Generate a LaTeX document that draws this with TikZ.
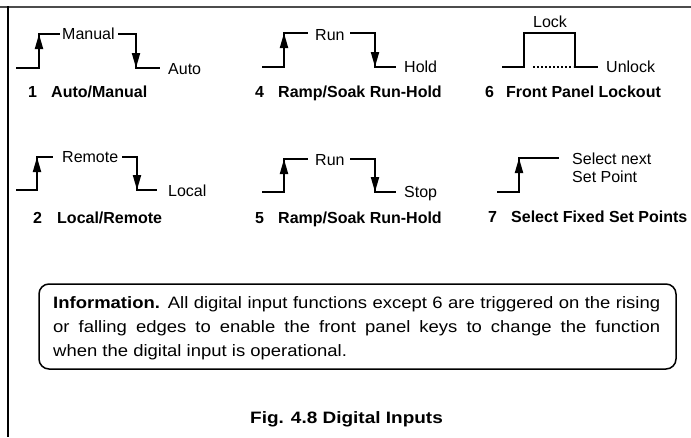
\documentclass[tikz,border=0pt]{standalone}
\usepackage{fontspec}
\setmainfont{Liberation Sans}
\newfontfamily\infofont[FakeStretch=1.12]{Liberation Sans}
\newfontfamily\capfont[FakeStretch=1.15]{Liberation Sans}
\usetikzlibrary{arrows.meta,calc}
\tikzset{
  sig/.style={line width=2pt,line join=miter},
  sigarrow/.style={line width=2pt,-{Triangle[length=15pt,width=8pt]}},
  lbl/.style={anchor=base west,inner sep=0pt,font=\fontsize{16}{19}\selectfont},
  ttl/.style={anchor=base west,inner sep=0pt,font=\bfseries\fontsize{16}{19}\selectfont},
  infotxt/.style={anchor=base west,inner sep=0pt,font=\infofont\fontsize{16.5}{20}\selectfont},
  frameline/.style={line width=2pt}
}
\begin{document}
\begin{tikzpicture}[x=1pt,y=-1pt]
\useasboundingbox (0,0) rectangle (691,437);
% frame
\coordinate (ftl) at (0,7); \coordinate (ftr) at (691,7);
\coordinate (fl1) at (8,6); \coordinate (fl2) at (8,437);
\draw[frameline,black!70] (ftl) -- (ftr);
\draw[frameline] (fl1) -- (fl2);

% ---- 1 Auto/Manual
\coordinate (d1a) at (16,68); \coordinate (d1b) at (39,68);
\coordinate (d1c) at (39,34); \coordinate (d1d) at (60,34);
\coordinate (d1e) at (118,34); \coordinate (d1f) at (136,34);
\coordinate (d1g) at (136,68); \coordinate (d1h) at (160,68);
\draw[sig] (d1a) -- (d1b) -- (d1c) -- (d1d);
\draw[sig] (d1e) -- (d1f) -- (d1g) -- (d1h);
\draw[sigarrow] ($(d1c)+(0,17)$) -- (d1c);
\draw[sigarrow] ($(d1g)+(0,-17)$) -- (d1g);
\node[lbl] (d1hi) at (62,39) {Manual};
\node[lbl] (d1lo) at (168,74) {Auto};
\node[ttl] (n1) at (28,97) {1};
\node[ttl] (t1) at (51,97) {Auto/Manual};

% ---- 2 Local/Remote
\coordinate (d2a) at (16,190); \coordinate (d2b) at (37,190);
\coordinate (d2c) at (37,157); \coordinate (d2d) at (53,157);
\coordinate (d2e) at (122,157); \coordinate (d2f) at (137,157);
\coordinate (d2g) at (137,190); \coordinate (d2h) at (157,190);
\draw[sig] (d2a) -- (d2b) -- (d2c) -- (d2d);
\draw[sig] (d2e) -- (d2f) -- (d2g) -- (d2h);
\draw[sigarrow] ($(d2c)+(0,17)$) -- (d2c);
\draw[sigarrow] ($(d2g)+(0,-17)$) -- (d2g);
\node[lbl] (d2hi) at (62,162) {Remote};
\node[lbl] (d2lo) at (168,196) {Local};
\node[ttl] (n2) at (33,223) {2};
\node[ttl] (t2) at (57,223) {Local/Remote};

% ---- 4 Ramp/Soak Run-Hold
\coordinate (d4a) at (262,67); \coordinate (d4b) at (284,67);
\coordinate (d4c) at (284,33); \coordinate (d4d) at (308,33);
\coordinate (d4e) at (350,33); \coordinate (d4f) at (375,33);
\coordinate (d4g) at (375,67); \coordinate (d4h) at (396,67);
\draw[sig] (d4a) -- (d4b) -- (d4c) -- (d4d);
\draw[sig] (d4e) -- (d4f) -- (d4g) -- (d4h);
\draw[sigarrow] ($(d4c)+(0,17)$) -- (d4c);
\draw[sigarrow] ($(d4g)+(0,-17)$) -- (d4g);
\node[lbl] (d4hi) at (315,40) {Run};
\node[lbl] (d4lo) at (404,72) {Hold};
\node[ttl] (n4) at (255,97) {4};
\node[ttl] (t4) at (278,97) {Ramp/Soak Run-Hold};

% ---- 5 Ramp/Soak Run-Hold
\coordinate (d5a) at (262,192); \coordinate (d5b) at (284,192);
\coordinate (d5c) at (284,159); \coordinate (d5d) at (308,159);
\coordinate (d5e) at (350,159); \coordinate (d5f) at (375,159);
\coordinate (d5g) at (375,192); \coordinate (d5h) at (396,192);
\draw[sig] (d5a) -- (d5b) -- (d5c) -- (d5d);
\draw[sig] (d5e) -- (d5f) -- (d5g) -- (d5h);
\draw[sigarrow] ($(d5c)+(0,17)$) -- (d5c);
\draw[sigarrow] ($(d5g)+(0,-17)$) -- (d5g);
\node[lbl] (d5hi) at (315,165) {Run};
\node[lbl] (d5lo) at (404,197.5) {Stop};
\node[ttl] (n5) at (255,223) {5};
\node[ttl] (t5) at (278,223) {Ramp/Soak Run-Hold};

% ---- 6 Front Panel Lockout
\coordinate (d6a) at (502,67); \coordinate (d6b) at (524,67);
\coordinate (d6c) at (524,33); \coordinate (d6d) at (575,33);
\coordinate (d6e) at (575,67); \coordinate (d6f) at (598,67);
\coordinate (d6p) at (533,67); \coordinate (d6q) at (573,67);
\draw[sig] (d6a) -- (d6b) -- (d6c) -- (d6d) -- (d6e) -- (d6f);
\draw[line width=1.5pt,dash pattern=on 2pt off 2pt] (d6p) -- (d6q);
\node[lbl] (d6hi) at (533,27) {Lock};
\node[lbl] (d6lo) at (606,72) {Unlock};
\node[ttl] (n6) at (485,97) {6};
\node[ttl] (t6) at (506,97) {Front Panel Lockout};

% ---- 7 Select Fixed Set Points
\coordinate (d7a) at (497,192); \coordinate (d7b) at (519,192);
\coordinate (d7c) at (519,158); \coordinate (d7d) at (559,158);
\draw[sig] (d7a) -- (d7b) -- (d7c) -- (d7d);
\draw[sigarrow] ($(d7c)+(0,17)$) -- (d7c);
\node[lbl] (d7hi) at (572,164) {Select next};
\node[lbl] (d7hj) at (572,182) {Set Point};
\node[ttl] (n7) at (488,222) {7};
\node[ttl] (t7) at (511,222) {Select Fixed Set Points};

% ---- information box
\node[draw,rounded corners=10pt,line width=1.5pt,minimum width=637pt,minimum height=85pt,inner sep=0pt] (infobox) at (357.5,326.5) {};
\node[infotxt] (i1) at (53,308) {\makebox[607pt][s]{\textbf{Information.} All digital input functions except 6 are triggered on the rising}};
\node[infotxt] (i2) at (53,332.5) {\makebox[607pt][s]{or falling edges to enable the front panel keys to change the function}};
\node[infotxt] (i3) at (53,356) {when the digital input is operational.};

% ---- caption
\node[anchor=base east,inner sep=0pt,font=\capfont\bfseries\fontsize{16.5}{20}\selectfont] (cap) at (443,423) {Fig. 4.8 Digital Inputs};
\end{tikzpicture}
\end{document}
